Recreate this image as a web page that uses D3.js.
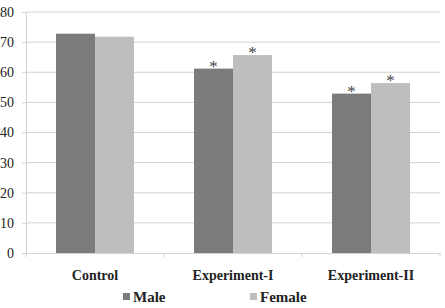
<!DOCTYPE html>
<html><head><meta charset="utf-8">
<script src="https://cdn.jsdelivr.net/npm/d3@7"></script>
<style>body{margin:0;background:#fff}</style>
</head><body><svg id="c" width="445" height="308" font-family="Liberation Serif"></svg>
<script>
const categories = ["Control", "Experiment-I", "Experiment-II"];
const seriesNames = ["Male", "Female"];
const maleValues = [72.8, 61.2, 52.9];
const femaleValues = [71.8, 65.7, 56.4];
const maleSig = [false, true, true];
const femaleSig = [false, true, true];
const yTicks = [0, 10, 20, 30, 40, 50, 60, 70, 80];
const colors = ["#7b7b7b", "#bebebe"];

const FF = '"Liberation Serif"';
const chartSvg = d3.select("#c");
const mLeft = 26, mRight = 440, mTop = 12, mBottom = 253;
const xScale = d3.scaleBand().domain(categories).range([mLeft, mRight]).paddingInner(0.435).paddingOuter(0.2175);
const xSub = d3.scaleBand().domain(seriesNames).range([0, xScale.bandwidth()]);
const yScale = d3.scaleLinear().domain([0, 80]).range([mBottom, mTop]);

chartSvg.append("g").selectAll("line").data(yTicks.filter(d => d > 0)).join("line")
  .attr("x1", mLeft).attr("x2", mRight).attr("y1", d => yScale(d)).attr("y2", d => yScale(d))
  .attr("stroke", "#d3d3d3").attr("stroke-width", 1);

const yAxisG = chartSvg.append("g").attr("transform", `translate(${mLeft},0)`)
  .call(d3.axisLeft(yScale).tickValues(yTicks).tickSize(0).tickPadding(12));
yAxisG.attr("font-family", "Liberation Serif").attr("font-size", 14);
yAxisG.select(".domain").attr("stroke", "#d3d3d3");
yAxisG.selectAll("text").style("font-family", FF).style("font-size", "14px").attr("fill", "#222");
yAxisG.selectAll(".tick").append("line").attr("x1", -4).attr("x2", 0).attr("stroke", "#d3d3d3");

const barData = categories.map((c, i) => ({c, vals: [
  {s: "Male", v: maleValues[i], sig: maleSig[i]},
  {s: "Female", v: femaleValues[i], sig: femaleSig[i]}]}));

const groups = chartSvg.append("g").selectAll("g").data(barData).join("g")
  .attr("transform", d => `translate(${xScale(d.c)},0)`);
groups.selectAll("rect").data(d => d.vals).join("rect")
  .attr("x", d => xSub(d.s)).attr("width", xSub.bandwidth())
  .attr("y", d => yScale(d.v)).attr("height", d => yScale(0) - yScale(d.v))
  .attr("fill", (d, i) => colors[i]);
groups.selectAll("text.sig").data(d => d.vals.filter(v => v.sig)).join("text")
  .attr("class", "sig")
  .attr("x", d => xSub(d.s) + xSub.bandwidth() / 2).attr("y", d => yScale(d.v) + 3)
  .attr("text-anchor", "middle").style("font-family", FF).style("font-size", "17px")
  .attr("fill", "#444").text("*");

const xAxisG = chartSvg.append("g").attr("transform", `translate(0,${mBottom})`)
  .call(d3.axisBottom(xScale).tickSize(0).tickPadding(17));
xAxisG.attr("font-family", "Liberation Serif").attr("font-size", 14);
xAxisG.select(".domain").attr("stroke", "#d3d3d3");
xAxisG.selectAll("text").style("font-family", FF).style("font-size", "14px").style("font-weight", "bold").attr("fill", "#222");
const bounds = [mLeft, ...categories.map(c => xScale(c) + xScale.bandwidth() + xScale.step() * xScale.paddingInner() / 2)];
bounds[bounds.length - 1] = mRight;
chartSvg.append("g").selectAll("line").data(bounds).join("line")
  .attr("x1", d => d).attr("x2", d => d).attr("y1", mBottom).attr("y2", mBottom + 4)
  .attr("stroke", "#d3d3d3");

const legX = [123, 250];
const legendG = chartSvg.append("g").selectAll("g").data(seriesNames).join("g")
  .attr("transform", (d, i) => `translate(${legX[i]},297)`);
legendG.append("rect").attr("x", 0).attr("y", -4).attr("width", 7).attr("height", 7).attr("fill", (d, i) => colors[i]);
legendG.append("text").attr("x", 10).attr("y", 5).style("font-family", FF).style("font-size", "15px")
  .style("font-weight", "bold").attr("fill", "#222").text(d => d);
</script></body></html>
